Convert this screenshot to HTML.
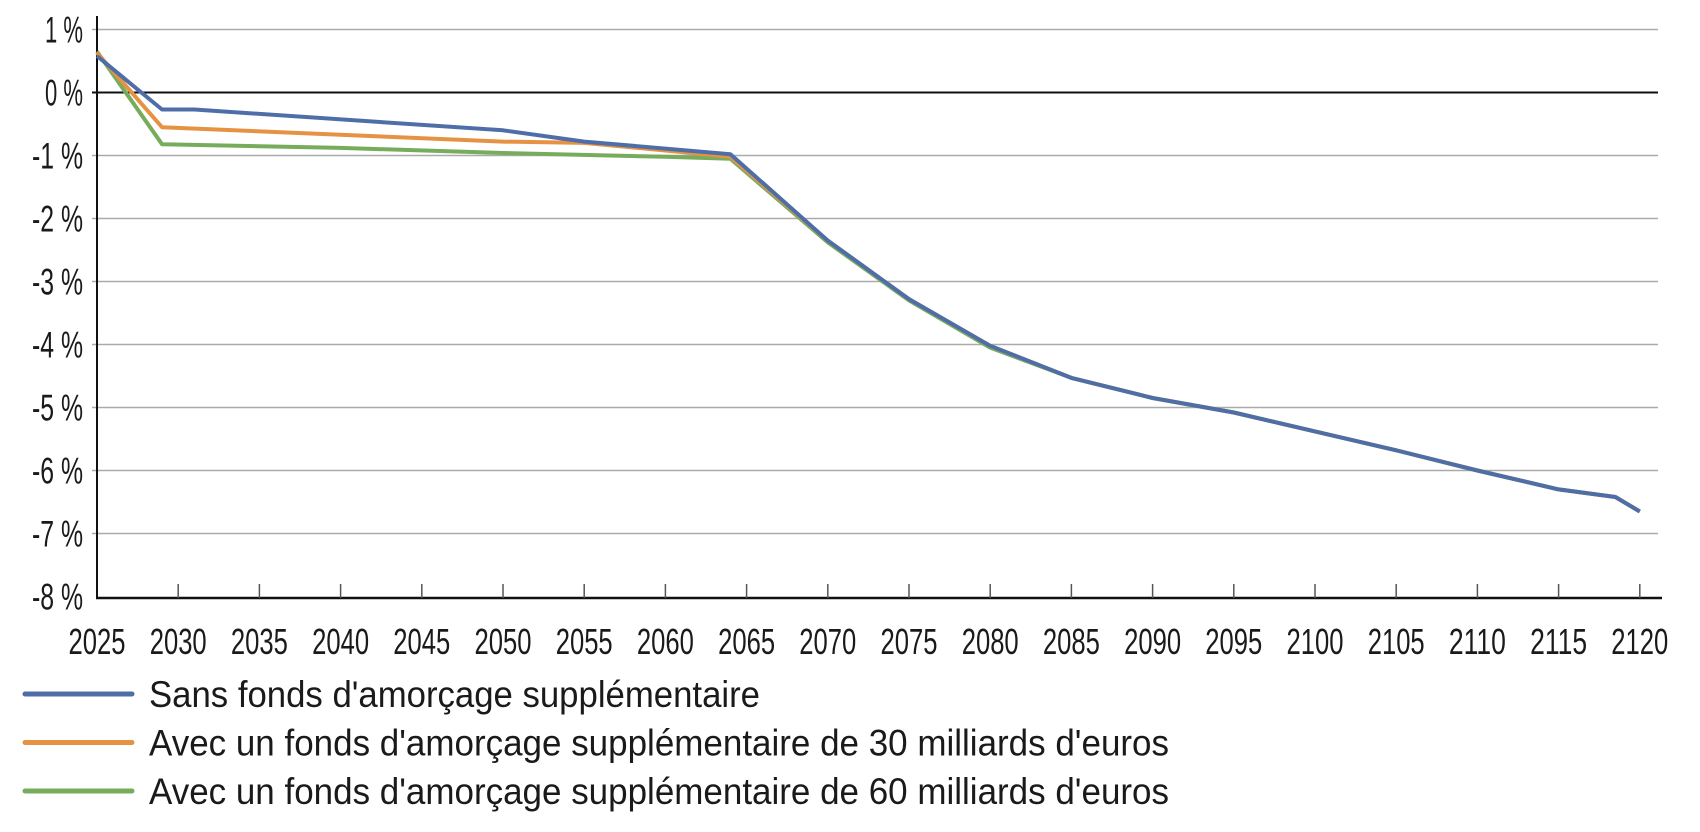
<!DOCTYPE html>
<html><head><meta charset="utf-8"><style>
html,body{margin:0;padding:0;background:#fff;}
svg{display:block;font-family:"Liberation Sans",sans-serif;fill:#1a1a1a;}
</style></head><body>
<svg id="s" width="1700" height="832" viewBox="0 0 1700 832" xmlns="http://www.w3.org/2000/svg"></svg>
<script>
const s=document.getElementById('s');
const X=y=>97+(y-2025)*16.24, Y=v=>92.5-v*63;
let h='';
for(let v=1;v>=-7;v--){
  h+=`<line x1="92" x2="1658" y1="${Y(v)}" y2="${Y(v)}" stroke="${v==0?'#111':'#aaa'}" stroke-width="${v==0?2:1.5}"/>`;
}
for(let v=1;v>=-8;v--){
  const lbl=(v<0?'-':'')+Math.abs(v)+' %';
  const w=v<0?51:38;
  h+=`<text x="83" y="${Y(v)+13}" font-size="37" text-anchor="end" textLength="${w}" lengthAdjust="spacingAndGlyphs">${lbl}</text>`;
}
h+=`<line x1="97" x2="97" y1="16" y2="599" stroke="#111" stroke-width="2"/>`;
h+=`<line x1="96" x2="1662" y1="598" y2="598" stroke="#111" stroke-width="2.5"/>`;
for(let y=2025;y<=2120;y+=5){
  const x=X(y);
  if(y>2025)h+=`<line x1="${x}" x2="${x}" y1="584" y2="598" stroke="#555" stroke-width="1.5"/>`;
  h+=`<text x="${x}" y="654" font-size="36" text-anchor="middle" textLength="57" lengthAdjust="spacingAndGlyphs">${y}</text>`;
}
const common=[[2070,-2.35],[2075,-3.28],[2080,-4.02],[2085,-4.53],[2090,-4.85],[2095,-5.08],[2100,-5.38],[2105,-5.68],[2110,-6.0],[2115,-6.3],[2118.5,-6.42],[2120,-6.65]];
const green=[[2025,0.65],[2029,-0.82],[2040,-0.88],[2050,-0.96],[2060,-1.02],[2064,-1.05],[2070,-2.38],[2075,-3.3],[2080,-4.05]].concat(common.slice(3));
const orange=[[2025,0.63],[2029,-0.55],[2050,-0.78],[2055,-0.8],[2060,-0.92],[2064,-1.02]].concat(common);
const blue=[[2025,0.58],[2029,-0.27],[2031,-0.27],[2050,-0.6],[2055,-0.78],[2064,-0.98]].concat(common);
const pl=(d,c)=>`<polyline fill="none" stroke="${c}" stroke-width="4" stroke-linejoin="round" points="${d.map(p=>X(p[0]).toFixed(1)+','+Y(p[1]).toFixed(1)).join(' ')}"/>`;
h+=pl(green,'#77ac5d')+pl(orange,'#e69243')+pl(blue,'#4e6ea8');
const leg=[['#4e6ea8','Sans fonds d\'amorçage supplémentaire',611],['#e69243','Avec un fonds d\'amorçage supplémentaire de 30 milliards d\'euros',1020],['#77ac5d','Avec un fonds d\'amorçage supplémentaire de 60 milliards d\'euros',1020]];
leg.forEach((l,i)=>{const y=694+i*48.5;
 h+=`<line x1="25" x2="132" y1="${y}" y2="${y}" stroke="${l[0]}" stroke-width="5" stroke-linecap="round"/>`;
 h+=`<text x="149" y="${y+13}" font-size="37" textLength="${l[2]}" lengthAdjust="spacingAndGlyphs">${l[1]}</text>`;});
s.innerHTML=h;
</script>
</body></html>
